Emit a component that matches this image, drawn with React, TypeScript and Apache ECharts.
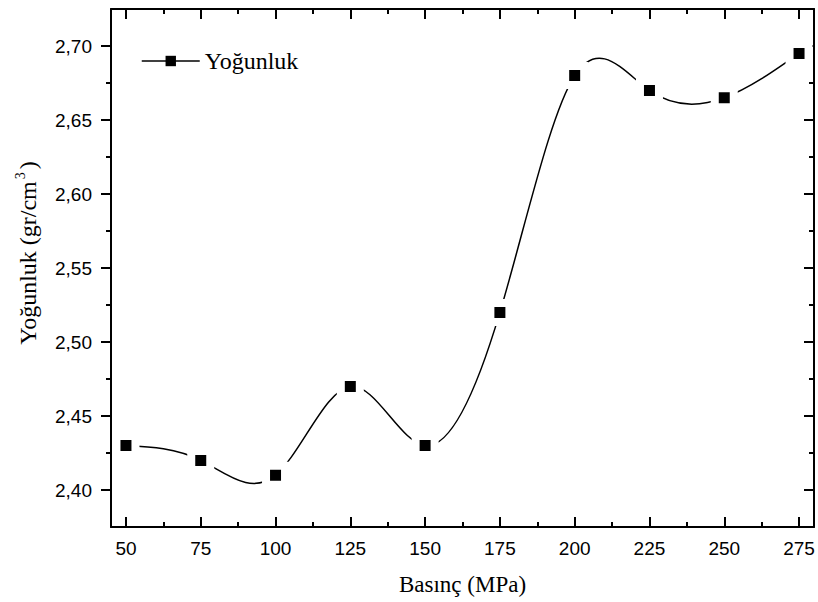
import React, { useEffect, useRef } from "react";
import * as echarts from "echarts";

// Measured density against compaction pressure
const pressures = [50, 75, 100, 125, 150, 175, 200, 225, 250, 275];
const densities = [2.43, 2.42, 2.41, 2.47, 2.43, 2.52, 2.68, 2.67, 2.665, 2.695];

// Axis tick positions
const xMajorTicks = [50, 75, 100, 125, 150, 175, 200, 225, 250, 275];
const xMinorTicks = [62.5, 87.5, 112.5, 137.5, 162.5, 187.5, 212.5, 237.5, 262.5];
const yMajorTicks = [2.4, 2.45, 2.5, 2.55, 2.6, 2.65, 2.7];
const yMinorTicks = [2.425, 2.475, 2.525, 2.575, 2.625, 2.675];

const X_MIN = 45;
const X_MAX = 280;
const Y_MIN = 2.375;
const Y_MAX = 2.725;

const SANS = "'Liberation Sans', Arial, sans-serif";
const SERIF = "'Liberation Serif', 'Times New Roman', serif";

// Natural cubic spline through the points: second derivatives at each knot
function splineSecondDerivs(xs: number[], ys: number[]): number[] {
  const n = xs.length;
  const m = new Array(n).fill(0);
  if (n < 3) return m;
  const a: number[] = [], b: number[] = [], c: number[] = [], r: number[] = [];
  for (let i = 1; i < n - 1; i++) {
    const h0 = xs[i] - xs[i - 1];
    const h1 = xs[i + 1] - xs[i];
    a.push(h0);
    b.push(2 * (h0 + h1));
    c.push(h1);
    r.push(6 * ((ys[i + 1] - ys[i]) / h1 - (ys[i] - ys[i - 1]) / h0));
  }
  const k = b.length;
  for (let i = 1; i < k; i++) {
    const w = a[i] / b[i - 1];
    b[i] -= w * c[i - 1];
    r[i] -= w * r[i - 1];
  }
  const sol = new Array(k).fill(0);
  sol[k - 1] = r[k - 1] / b[k - 1];
  for (let i = k - 2; i >= 0; i--) sol[i] = (r[i] - c[i] * sol[i + 1]) / b[i];
  for (let i = 0; i < k; i++) m[i + 1] = sol[i];
  return m;
}

const secondDerivs = splineSecondDerivs(pressures, densities);

const frameLine = { show: true, lineStyle: { color: "#000", width: 2 } };

function tickAxis(values: number[], length: number, inside: boolean) {
  return {
    show: true,
    inside,
    length,
    customValues: values,
    lineStyle: { color: "#000", width: 2 },
  };
}

export default function App() {
  const ref = useRef<HTMLDivElement>(null);

  useEffect(() => {
    document.body.style.margin = "0";
    if (!ref.current) return;
    const chart = echarts.init(ref.current, null, { renderer: "svg" });

    const commaFmt = (v: number) => v.toFixed(2).replace(".", ",");
    const points = pressures.map((p, i) => [p, densities[i]]);

    const xBase = { type: "value", min: X_MIN, max: X_MAX, splitLine: { show: false } };
    const yBase = { type: "value", min: Y_MIN, max: Y_MAX, splitLine: { show: false } };

    // One cubic Bezier per interval, equal to the spline segment
    const renderSegment = (params: any, api: any) => {
      const i = params.dataIndex;
      if (i >= pressures.length - 1) return null;
      const x0 = pressures[i], x1 = pressures[i + 1];
      const y0 = densities[i], y1 = densities[i + 1];
      const h = x1 - x0;
      const m0 = secondDerivs[i], m1 = secondDerivs[i + 1];
      const d0 = (y1 - y0) / h - (h * (2 * m0 + m1)) / 6;
      const d1 = (y1 - y0) / h + (h * (m0 + 2 * m1)) / 6;
      const p0 = api.coord([x0, y0]);
      const c0 = api.coord([x0 + h / 3, y0 + (d0 * h) / 3]);
      const c1 = api.coord([x1 - h / 3, y1 - (d1 * h) / 3]);
      const p1 = api.coord([x1, y1]);
      return {
        type: "bezierCurve",
        shape: {
          x1: p0[0], y1: p0[1],
          cpx1: c0[0], cpy1: c0[1],
          cpx2: c1[0], cpy2: c1[1],
          x2: p1[0], y2: p1[1],
        },
        style: { stroke: "#000", lineWidth: 1.5, fill: "none" },
      };
    };

    chart.setOption({
      animation: false,
      backgroundColor: "#fff",
      grid: { left: 111, right: 4, top: 9, bottom: 75, outerBoundsMode: "none" },
      legend: {
        left: 141,
        top: 49,
        padding: 0,
        itemWidth: 58,
        itemHeight: 13,
        itemStyle: { borderWidth: 0 },
        lineStyle: { color: "#000", width: 1.5, opacity: 1 },
        textStyle: { fontFamily: SERIF, fontSize: 24, color: "#000" },
        data: ["Yoğunluk"],
      },
      xAxis: [
        {
          ...xBase,
          position: "bottom",
          axisLine: frameLine,
          axisTick: tickAxis(xMajorTicks, 10, true),
          axisLabel: {
            customValues: xMajorTicks,
            margin: 12,
            fontFamily: SANS,
            fontSize: 19,
            color: "#000",
          },
          name: "Basınç (MPa)",
          nameLocation: "middle",
          nameGap: 46,
          nameTextStyle: { fontFamily: SERIF, fontSize: 23, color: "#000" },
        },
        {
          ...xBase,
          position: "bottom",
          axisLine: { show: false },
          axisTick: tickAxis(xMinorTicks, 5, true),
          axisLabel: { show: false },
        },
        {
          ...xBase,
          position: "top",
          axisLine: frameLine,
          axisTick: tickAxis(xMajorTicks, 10, true),
          axisLabel: { show: false },
        },
        {
          ...xBase,
          position: "top",
          axisLine: { show: false },
          axisTick: tickAxis(xMinorTicks, 5, true),
          axisLabel: { show: false },
        },
      ],
      yAxis: [
        {
          ...yBase,
          position: "left",
          axisLine: frameLine,
          axisTick: tickAxis(yMajorTicks, 10, false),
          axisLabel: {
            customValues: yMajorTicks,
            formatter: commaFmt,
            margin: 19,
            fontFamily: SANS,
            fontSize: 19,
            color: "#000",
          },
          name: "{t|Yoğunluk (gr/cm}{sup|3}{t|)}",
          nameLocation: "middle",
          nameGap: 68,
          nameTextStyle: {
            fontFamily: SERIF,
            fontSize: 24,
            color: "#000",
            padding: [0, 0, 0, 30],
            rich: {
              t: { fontFamily: SERIF, fontSize: 24, color: "#000", lineHeight: 30 },
              sup: {
                fontFamily: SERIF,
                fontSize: 14,
                color: "#000",
                verticalAlign: "top",
                lineHeight: 30,
                padding: [0, 3, 12, 2],
              },
            },
          },
        },
        {
          ...yBase,
          position: "left",
          axisLine: { show: false },
          axisTick: tickAxis(yMinorTicks, 5, false),
          axisLabel: { show: false },
        },
        {
          ...yBase,
          position: "right",
          axisLine: frameLine,
          axisTick: tickAxis(yMajorTicks, 10, true),
          axisLabel: { show: false },
        },
        {
          ...yBase,
          position: "right",
          axisLine: { show: false },
          axisTick: tickAxis(yMinorTicks, 5, true),
          axisLabel: { show: false },
        },
      ],
      series: [
        {
          name: "Yoğunluk eğrisi",
          type: "custom",
          xAxisIndex: 0,
          yAxisIndex: 0,
          data: points,
          encode: { x: 0, y: 1 },
          renderItem: renderSegment,
          silent: true,
          z: 1,
        },
        {
          name: "Yoğunluk",
          type: "line",
          xAxisIndex: 0,
          yAxisIndex: 0,
          data: points,
          symbol: "rect",
          symbolSize: 19,
          lineStyle: { color: "#000", width: 1.5, opacity: 0 },
          itemStyle: { color: "#000", borderColor: "#fff", borderWidth: 8 },
          z: 3,
        },
      ],
    });

    return () => chart.dispose();
  }, []);

  return <div ref={ref} style={{ width: 818, height: 602 }} />;
}
